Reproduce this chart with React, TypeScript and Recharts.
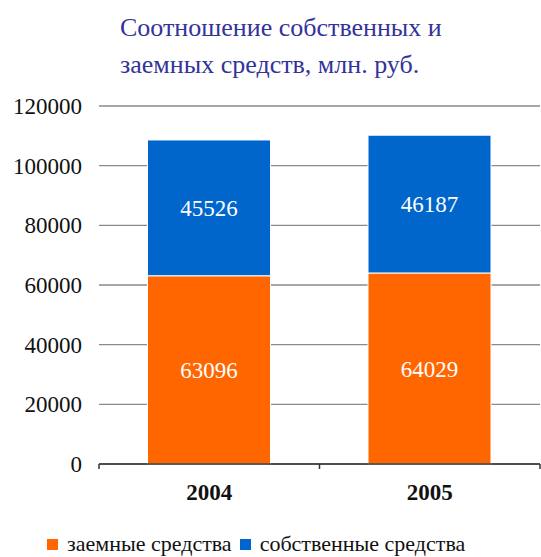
import React from "react";
import { BarChart, Bar, XAxis, YAxis, CartesianGrid, LabelList, Legend } from "recharts";

const years = ["2004", "2005"];
const borrowed = [63096, 64029];
const own = [45526, 46187];
const yTicks = [0, 20000, 40000, 60000, 80000, 100000, 120000];
const seriesNames = ["заемные средства", "собственные средства"];
const title = ["Соотношение собственных и", "заемных средств, млн. руб."];

const data = years.map((y, i) => ({ year: y, borrowed: borrowed[i], own: own[i] }));

const W = 541;
const H = 557;
const margin = { top: 106, right: 1, bottom: 0, left: 0 };
const yAxisWidth = 99;
const FONT = "'Liberation Serif', 'Times New Roman', serif";
const ORANGE = "#ff6600";
const BLUE = "#0066cc";

const halfBand = (W - margin.right - margin.left - yAxisWidth) / years.length / 2;

const XTick = (props: any) => {
  const { x, y, payload, index } = props;
  const axisY = y - 8;
  return (
    <g>
      <line x1={x - halfBand} x2={x - halfBand} y1={axisY} y2={axisY + 5} stroke="#333" strokeWidth={1.5} />
      {index === years.length - 1 && (
        <line x1={x + halfBand} x2={x + halfBand} y1={axisY} y2={axisY + 5} stroke="#333" strokeWidth={1.5} />
      )}
      <text x={x} y={axisY + 36} textAnchor="middle" fontFamily={FONT} fontWeight="bold" fontSize={23} fill="#111">
        {payload.value}
      </text>
    </g>
  );
};

const LegendContent = () => (
  <div
    style={{
      display: "flex",
      justifyContent: "flex-start",
      alignItems: "center",
      fontFamily: FONT,
      fontSize: 22,
      lineHeight: "24px",
      color: "#111",
      paddingTop: 18,
      paddingLeft: 47,
    }}
  >
    {[ORANGE, BLUE].map((c, i) => (
      <span key={i} style={{ display: "inline-flex", alignItems: "center", marginRight: 8 }}>
        <span style={{ display: "inline-block", width: 11, height: 11, background: c, marginRight: 9 }} />
        {seriesNames[i]}
      </span>
    ))}
  </div>
);

export default function App() {
  return (
    <div style={{ position: "absolute", left: 0, top: 0, width: W, height: H, background: "#fff" }}>
      <div
        style={{
          position: "absolute",
          left: 120,
          top: 9,
          fontFamily: FONT,
          fontSize: 26,
          lineHeight: "37px",
          color: "#333399",
          whiteSpace: "nowrap",
          zIndex: 2,
        }}
      >
        <div>{title[0]}</div>
        <div>{title[1]}</div>
      </div>
      <BarChart width={W} height={H} data={data} margin={margin} barCategoryGap="22%">
        <CartesianGrid vertical={false} stroke="#8a8a8a" strokeWidth={1.3} />
        <XAxis
          dataKey="year"
          height={50}
          axisLine={{ stroke: "#333", strokeWidth: 1.5 }}
          tickLine={false}
          tick={<XTick />}
          interval={0}
        />
        <YAxis
          width={yAxisWidth}
          domain={[0, 120000]}
          ticks={yTicks}
          axisLine={false}
          tickLine={false}
          tickMargin={11}
          tick={{ fontFamily: FONT, fontSize: 23, fill: "#111" }}
        />
        <Legend verticalAlign="bottom" content={<LegendContent />} wrapperStyle={{ height: 43 }} />
        <Bar dataKey="borrowed" stackId="a" fill={ORANGE} stroke="#fff" strokeWidth={1} isAnimationActive={false} name={seriesNames[0]}>
          <LabelList dataKey="borrowed" position="center" fill="#fff" fontFamily={FONT} fontSize={23} />
        </Bar>
        <Bar dataKey="own" stackId="a" fill={BLUE} stroke="#fff" strokeWidth={1} isAnimationActive={false} name={seriesNames[1]}>
          <LabelList dataKey="own" position="center" fill="#fff" fontFamily={FONT} fontSize={23} />
        </Bar>
      </BarChart>
    </div>
  );
}
